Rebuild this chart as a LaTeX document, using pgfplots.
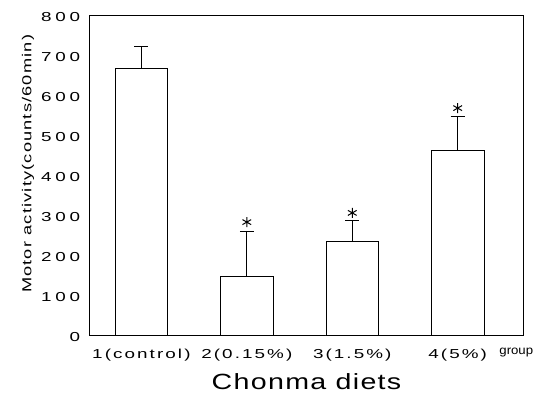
\documentclass[border=0pt]{standalone}
\usepackage{graphicx}
\usepackage{fontspec}
\setmainfont{Liberation Sans}
\newfontfamily\ytickfont[LetterSpace=20]{Liberation Sans}
\newfontfamily\xtickfont[FakeStretch=1.45,LetterSpace=16]{Liberation Sans}
\newfontfamily\labfont[FakeStretch=1.4,LetterSpace=9]{Liberation Sans}
\newfontfamily\titfont[FakeStretch=1.3,LetterSpace=6]{Liberation Sans}
\newfontfamily\grpfont[FakeStretch=1.1]{Liberation Sans}
\newcommand{\yl}[1]{\scalebox{1.45}[1]{#1}}
\usepackage{pgfplots}
\pgfplotsset{compat=1.18}
\pgfplotstableread{
x y e
1 668 56
2 147.5 114.5
3 235 54
4 462.5 85
}\bars
\begin{document}
\begin{tikzpicture}
\path[use as bounding box] (-89.3bp,-63.3bp) rectangle (456.7bp,335.7bp);
\begin{axis}[
  at={(0,0)}, anchor=south west,
  scale only axis, width=434.4bp, height=320bp,
  xmin=0.506, xmax=4.626, ymin=0, ymax=800,
  clip=false,
  ytick={0,100,200,300,400,500,600,700,800},
  yticklabels={\yl{0},\yl{100},\yl{200},\yl{300},\yl{400},\yl{500},\yl{600},\yl{700},\yl{800}},
  xtick={1,2,3,4},
  xticklabels={1(control),2(0.15\%),3(1.5\%),4(5\%)},
  major tick length=0pt,
  axis line style={black, line width=0.8bp},
  xticklabel style={anchor=base, yshift=-23bp, font=\xtickfont\fontsize{13bp}{15bp}\selectfont},
  yticklabel style={anchor=east, xshift=-5.7bp, yshift=-1.5bp, font=\ytickfont\fontsize{13bp}{15bp}\selectfont},
  ylabel={Motor activity(counts/60min)},
  ylabel style={at={(axis description cs:-0.141,0.537)}, anchor=center, font=\labfont\fontsize{13bp}{15bp}\selectfont},
  xlabel={Chonma diets},
  xlabel style={at={(axis description cs:0.5,-0.1675)}, anchor=base, font=\titfont\fontsize{22bp}{26bp}\selectfont},
]
\addplot[ybar, bar width=0.5, fill=white, draw=black, line width=0.8bp,
  error bars/.cd, y dir=plus, y explicit, error mark=|,
  error bar style={line width=0.8bp, black},
  error mark options={mark size=7bp, line width=0.8bp, black}]
  table[x=x, y=y, y error=e] {\bars};
\addplot[only marks, mark=asterisk, mark size=5bp, mark options={line width=1bp, black}]
  coordinates {(2,284) (3,307) (4,569)};
\node[anchor=base west, font=\grpfont\fontsize{12bp}{14bp}\selectfont] at (axis description cs:0.936,-0.058) {group};
\end{axis}
\end{tikzpicture}
\end{document}
